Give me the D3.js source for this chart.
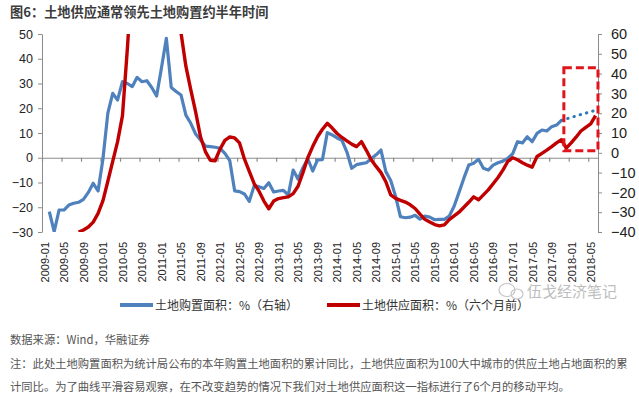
<!DOCTYPE html>
<html><head><meta charset="utf-8">
<script src="https://cdn.jsdelivr.net/npm/d3@7"></script>
<style>
html,body{margin:0;padding:0;background:#fff;}
svg{display:block;}
</style></head>
<body>
<svg id="c" width="639" height="399"></svg>
<script>
// ---------- DATA ----------
// monthly categories 2009-01 .. 2018-06
const months = [];
for (let yr = 2009; yr <= 2018; yr++) {
  for (let mo = 1; mo <= 12; mo++) {
    if (yr === 2018 && mo > 6) break;
    months.push(yr + "-" + String(mo).padStart(2, "0"));
  }
}
const tickEvery = 4; // a label every 4 months
const leftTicks = [-30, -20, -10, 0, 10, 20, 30, 40, 50];
const rightTicks = [-40, -30, -20, -10, 0, 10, 20, 30, 40, 50, 60];

// 土地购置面积 % (right axis), starts 2009-02
const purchaseStart = "2009-02";
const purchase = [
  -29.7, -39.8, -28.9, -28.9, -26.4, -25.5, -25, -23.5, -20, -15.4, -19.3,
  -3, 20, 30, 26.7, 35.9, 35, 33.4, 38.1, 35.9, 36.4, 33, 28.7,
  43, 57.8, 33, 31, 29.2, 19, 14.9, 9.5, 6.5, 3.4, 3.1, 2.8,
  2.3, -0.3, -4, -19.2, -19.6, -20.8, -24.5, -16.7, -17.1, -18, -15.1, -19.8,
  -19.3, -19, -21.3, -8.7, -13.3, -7.5, -3, -9.2, -3.6, -3.4, 10.2, 9,
  7.5, 6.3, 0.5, -7.8, -6, -5.5, -5, -3, -1, 1.4, -9.5, -14,
  -22, -32.3, -32.8, -32.5, -31.6, -33.5, -32, -32.5, -33.8, -33.6, -33.6, -32,
  -27, -20, -12.8, -6.2, -5.3, -3.3, -7.8, -8.7, -6.2, -5, -4.2, -2.8,
  -0.5, 5.6, 5, 8.1, 5.6, 9.8, 11.5, 11, 13.2, 14, 16.4
];
// dotted projection of 土地购置面积 (right axis)
const projMonths = ["2017-11", "2018-06"];
const projValues = [16.4, 21.5];

// 土地供应面积 % (six months earlier, left axis), starts 2009-08
const supplyStart = "2009-08";
const supply = [
  -30, -29.2, -28, -26, -22.5, -17.3, -9.5, -1.5, 6.5, 17, 44,
  75, 95, 108, 115, 116, 110, 100, 90, 80, 68, 50.5, 37,
  27.5, 18.5, 8.5, 2.5, -1, -1.2, 3.5, 7, 8.4, 8, 6, -0.5,
  -5.5, -10.5, -13.5, -17.5, -20.6, -17.5, -16.5, -16.1, -15.8, -14.5, -11.5, -6,
  0, 4.5, 8.5, 11.5, 13.9, 12, 9.8, 8.2, 6.8, 5.5, 4.5, 6.5,
  3, -0.8, -3.5, -6, -9.7, -15, -16.4, -17.2, -17.9, -19, -20.5, -22.8,
  -24.9, -26, -27, -27.5, -27.1, -25, -23.5, -22, -20, -18, -15.8, -17,
  -15, -13, -10.5, -8, -5, -1.5, 0, -0.8, -2, -3, -3.8, 0.5,
  1.8, 3.1, 4.5, 6, 7.3, 3.9, 6, 8.3, 10.8, 12.3, 13.7, 17
];
// highlighted box (months, right-axis values)
const boxMonths = ["2017-11", "2018-06"];
const boxValues = [1, 43];

const title = "图6：土地供应通常领先土地购置约半年时间";
const legendLabels = ["土地购置面积：%（右轴）", "土地供应面积：%（六个月前）"];
const source = "数据来源：Wind，华融证券";
const notes = [
  "注：此处土地购置面积为统计局公布的本年购置土地面积的累计同比，土地供应面积为100大中城市的供应土地占地面积的累",
  "计同比。为了曲线平滑容易观察，在不改变趋势的情况下我们对土地供应面积这一指标进行了6个月的移动平均。"
];
const watermark = "伍戈经济笔记";

// ---------- CHART ----------
const BLUE = "#4f81bd", RED = "#c00000", AX = "#8c8c8c";
const NUM = "'Liberation Sans', Arial, sans-serif";
const CJK = "'Noto Sans CJK SC', 'Noto Sans', sans-serif";
const svg = d3.select("#c");
const idx = m => months.indexOf(m);

const x = d3.scaleLinear().domain([-0.5, months.length - 0.5]).range([42, 598]);
const yL = d3.scaleLinear().domain([-30, 50]).range([232, 34]);
const yR = d3.scaleLinear().domain([-40, 60]).range([232, 34]);

svg.append("defs").append("clipPath").attr("id", "plot")
  .append("rect").attr("x", 42).attr("y", yL(50)).attr("width", 556).attr("height", yL(-30) - yL(50));

// title
svg.append("text").attr("x", 10).attr("y", 17).text(title)
  .attr("font-family", CJK).attr("font-size", 13.2).attr("font-weight", "bold").attr("fill", "#3c3c3c");

// left axis
const gL = svg.append("g").attr("transform", `translate(${x(-0.5)},0)`)
  .call(d3.axisLeft(yL).tickValues(leftTicks).tickSize(4).tickSizeOuter(0).tickPadding(5));
gL.selectAll("text").attr("font-family", NUM).attr("font-size", 12.5).attr("fill", "#222");
gL.selectAll("line,path").attr("stroke", AX);

// right axis
const gR = svg.append("g").attr("transform", `translate(${x(months.length - 0.5)},0)`)
  .call(d3.axisRight(yR).tickValues(rightTicks).tickSize(4).tickSizeOuter(0).tickPadding(9));
gR.selectAll("text").attr("font-family", NUM).attr("font-size", 14.5).attr("fill", "#222");
gR.selectAll("line,path").attr("stroke", AX);

// horizontal category axis at left-axis zero
const catTicks = months.map((d, i) => i).filter(i => i % tickEvery === 0).map(i => i - 0.5);
const gX = svg.append("g").attr("transform", `translate(0,${yL(0)})`)
  .call(d3.axisBottom(x).tickValues(catTicks).tickSize(4).tickSizeOuter(0).tickFormat(""));
gX.selectAll("line,path").attr("stroke", AX).attr("stroke-width", 1.2);

// category labels at the bottom
const labIdx = months.map((d, i) => i).filter(i => i % tickEvery === 0);
const gXL = svg.append("g").attr("transform", "translate(0,240)")
  .call(d3.axisBottom(x).tickValues(labIdx).tickSize(0).tickFormat(i => months[i]));
gXL.select(".domain").remove();
gXL.selectAll("text")
  .attr("transform", "rotate(-90)").attr("x", -2).attr("y", 0).attr("dy", "0.35em")
  .attr("text-anchor", "end")
  .attr("font-family", NUM).attr("font-size", 11).attr("fill", "#222");

// series
const plot = svg.append("g").attr("clip-path", "url(#plot)");
const pStart = idx(purchaseStart), sStart = idx(supplyStart);
const lineR = d3.line().x(d => x(d[0])).y(d => yR(d[1]));
const lineL = d3.line().x(d => x(d[0])).y(d => yL(d[1]));

plot.append("path").datum(purchase.map((v, i) => [pStart + i, v]))
  .attr("d", lineR).attr("fill", "none").attr("stroke", BLUE).attr("stroke-width", 3.2)
  .attr("stroke-linejoin", "round");
plot.append("path").datum(projMonths.map((m, i) => [idx(m), projValues[i]]))
  .attr("d", lineR).attr("fill", "none").attr("stroke", "#2f7bb8").attr("stroke-width", 3)
  .attr("stroke-linecap", "round").attr("stroke-dasharray", "0.5,6");
plot.append("path").datum(supply.map((v, i) => [sStart + i, v]))
  .attr("d", lineL).attr("fill", "none").attr("stroke", RED).attr("stroke-width", 3.4)
  .attr("stroke-linejoin", "round");

// highlight box
const bx0 = x(idx(boxMonths[0]) + 0.5), bx1 = x(idx(boxMonths[1]) + 0.5);
svg.append("rect").attr("x", bx0).attr("y", yR(boxValues[1]))
  .attr("width", bx1 - bx0).attr("height", yR(boxValues[0]) - yR(boxValues[1]))
  .attr("fill", "none").attr("stroke", "#e0141b").attr("stroke-width", 3)
  .attr("stroke-dasharray", "8,4");

// legend
const legend = [[legendLabels[0], BLUE, 120], [legendLabels[1], RED, 327]];
legend.forEach(([t, c, lx]) => {
  svg.append("line").attr("x1", lx).attr("x2", lx + 33).attr("y1", 305).attr("y2", 305)
    .attr("stroke", c).attr("stroke-width", 4);
  svg.append("text").attr("x", lx + 35).attr("y", 309.5).text(t)
    .attr("font-family", CJK).attr("font-size", 12).attr("fill", "#333");
});

// watermark
const wm = svg.append("g").attr("fill", "none").attr("stroke", "#c4c4c4").attr("stroke-width", 1.2);
wm.append("ellipse").attr("cx", 507).attr("cy", 290).attr("rx", 8).attr("ry", 6.5);
wm.append("ellipse").attr("cx", 517).attr("cy", 294).attr("rx", 6).attr("ry", 5);
svg.append("text").attr("x", 527).attr("y", 297).text(watermark)
  .attr("font-family", CJK).attr("font-size", 15).attr("fill", "#bdbdbd");

// source & notes
svg.append("text").attr("x", 10).attr("y", 344).text(source)
  .attr("font-family", CJK).attr("font-size", 11.3).attr("fill", "#555");
notes.forEach((t, i) => {
  svg.append("text").attr("x", 10).attr("y", 368 + i * 23).text(t)
    .attr("font-family", CJK).attr("font-size", 11.3).attr("fill", "#555");
});
</script>
</body></html>
